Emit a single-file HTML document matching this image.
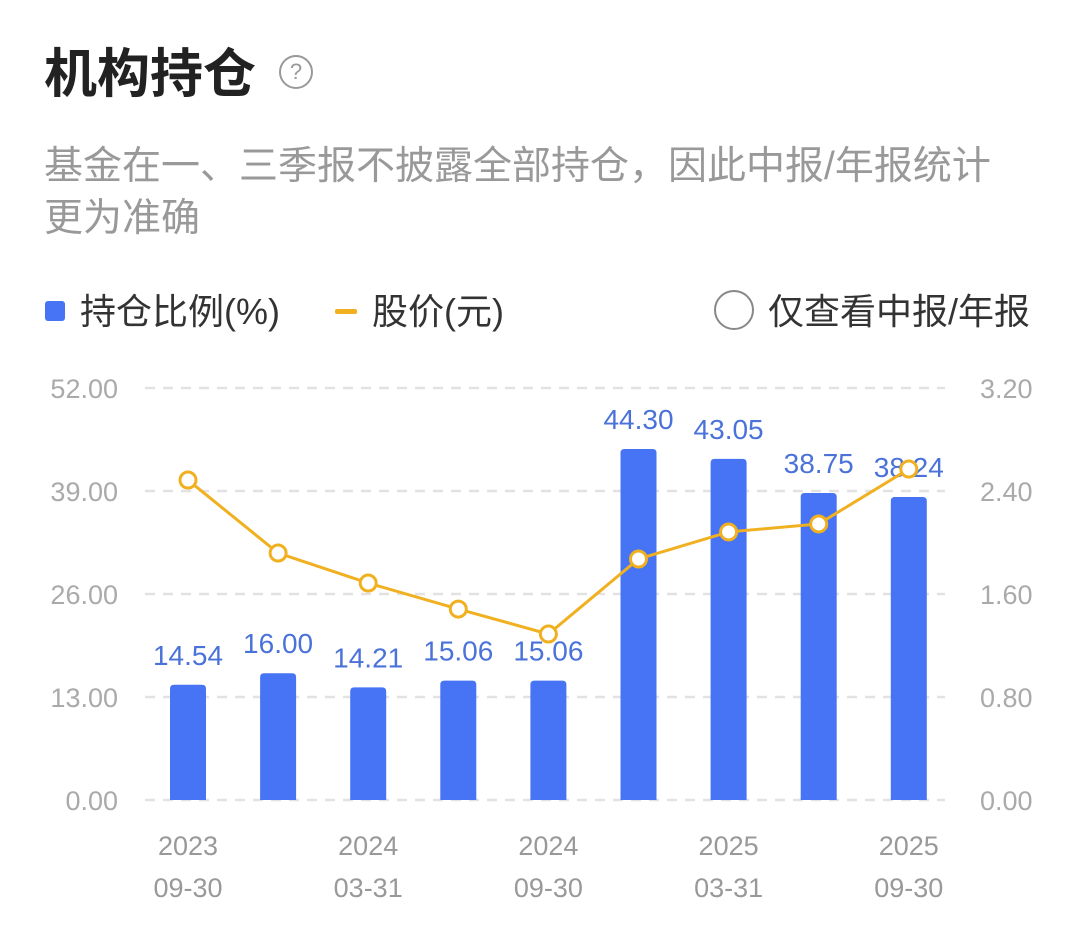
<!DOCTYPE html>
<html><head><meta charset="utf-8">
<style>
body{margin:0;background:#fff;width:1079px;height:931px;overflow:hidden;font-family:"Liberation Sans","Noto Sans CJK SC",sans-serif;}
.t{position:absolute;white-space:nowrap}
</style></head><body>
<div class="t" style="left:44px;top:32px;font-size:53px;font-weight:bold;color:#222">机构持仓</div>
<div class="t" style="left:279px;top:55px;width:30px;height:30px;border:2.5px solid #999;border-radius:50%;text-align:center;line-height:30px;font-size:22px;color:#999">?</div>
<div class="t" style="left:44px;top:141px;font-size:39px;line-height:52px;color:#999;white-space:normal;width:1030px">基金在一、三季报不披露全部持仓，因此中报/年报统计<br>更为准确</div>
<div class="t" style="left:45px;top:301px;width:20px;height:20px;border-radius:3px;background:#4674f4"></div>
<div class="t" style="left:80px;top:283px;font-size:36px;color:#333">持仓比例(%)</div>
<div class="t" style="left:335px;top:309px;width:22px;height:5px;border-radius:2px;background:#f0b020"></div>
<div class="t" style="left:372px;top:283px;font-size:36px;color:#333">股价(元)</div>
<div class="t" style="left:714px;top:290px;width:36px;height:36px;border:2.5px solid #888;border-radius:50%"></div>
<div class="t" style="left:768px;top:283px;font-size:36px;color:#333">仅查看中报/年报</div>
<svg id="chart" width="1079" height="931" style="position:absolute;left:0;top:0"></svg>
<script>
const categories=["2023-09-30","2023-12-31","2024-03-31","2024-06-30","2024-09-30","2024-12-31","2025-03-31","2025-06-30","2025-09-30"];
const holdings=[14.54,16.00,14.21,15.06,15.06,44.30,43.05,38.75,38.24];
const prices=[2.485,1.918,1.685,1.483,1.289,1.872,2.082,2.144,2.571];
const leftTicks=[0,13,26,39,52];
const rightTicks=[0,0.8,1.6,2.4,3.2];
const xLabelIdx=[0,2,4,6,8];
const NS="http://www.w3.org/2000/svg";
const svg=document.getElementById('chart');
const y0=800,y1=388,x0=145,x1=945;
const yL=v=>y0-(v/52)*(y0-y1);
const yR=v=>y0-(v/3.2)*(y0-y1);
const xC=i=>188+i*90.1;
function mk(tag,a,txt){const e=document.createElementNS(NS,tag);for(const k in a)e.setAttribute(k,a[k]);if(txt!==undefined)e.textContent=txt;svg.appendChild(e);return e;}
leftTicks.forEach((v,i)=>{
 const g=mk('line',{x1:x0,x2:x1,y1:yL(v),y2:yL(v),stroke:'#e2e2e2','stroke-width':2.5,'stroke-dasharray':'10 8'});
 
 
 const l=mk('text',{x:118,y:yL(v)+10,'text-anchor':'end','font-size':27,fill:'#aaa'},v.toFixed(2));
 
 
 const r=mk('text',{x:980,y:yR(rightTicks[i])+10,'font-size':27,fill:'#aaa'},rightTicks[i].toFixed(2));
 
 
});
holdings.forEach((v,i)=>{
 const b=mk('path',{d:`M${xC(i)-18},${y0}V${yL(v)+4}q0,-4 4,-4h28q4,0 4,4V${y0}Z`,fill:'#4674f4'});
 
 
 const t=mk('text',{x:xC(i),y:yL(v)-20,'text-anchor':'middle','font-size':28,fill:'#4a72d9'},v.toFixed(2));
 
 
});
xLabelIdx.forEach(i=>{
 const p=categories[i].split('-');
 const a=mk('text',{x:xC(i),y:855,'text-anchor':'middle','font-size':27,fill:'#999'},p[0]);
 
 
 const b=mk('text',{x:xC(i),y:897,'text-anchor':'middle','font-size':27,fill:'#999'},p[1]+'-'+p[2]);
 
 
});
const line=mk('polyline',{points:prices.map((v,i)=>xC(i)+','+yR(v)).join(' '),fill:'none',stroke:'#f0b020','stroke-width':3});


prices.forEach((v,i)=>{
 const c=mk('circle',{cx:xC(i),cy:yR(v),r:8,fill:'#fff',stroke:'#f0b020','stroke-width':3});
 
 
});
</script>
</body></html>
